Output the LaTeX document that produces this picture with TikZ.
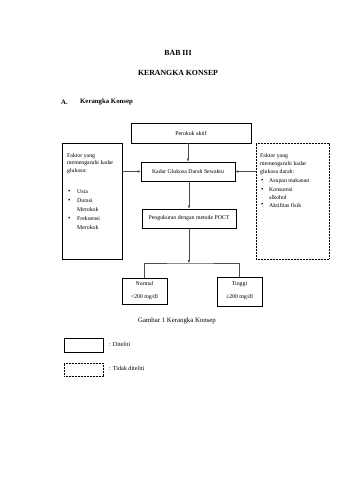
\documentclass[tikz,border=0pt]{standalone}
\usepackage{fontspec}
\setmainfont{Liberation Serif}
\usetikzlibrary{arrows.meta}
\begin{document}
\begin{tikzpicture}[x=1pt,y=-1pt,
  txt/.style={font=\fontsize{5.8}{6.5}\selectfont, inner sep=0pt},
  ltxt/.style={txt, anchor=west},
  bul/.style={ltxt, font=\fontsize{7}{7}\selectfont},
  solidbox/.style={draw=black, line width=0.6pt, inner sep=0pt},
  dotbox/.style={draw=black, line width=0.55pt, dash pattern=on 0.6pt off 0.9pt, inner sep=0pt},
  conn/.style={draw=black!70, line width=0.5pt},
  arr/.style={conn, -{Latex[length=3pt,width=2.6pt]}},
  title/.style={font=\fontsize{7.8}{9}\selectfont\bfseries, inner sep=0pt}]
\useasboundingbox[fill=white] (0,0) rectangle (339,480);
% titles
\node[title] (t1) at (178,53) {BAB III};
\node[title] (t2) at (178,73) {KERANGKA KONSEP};
\node[title, anchor=west, font=\fontsize{6.8}{8}\selectfont\bfseries] (t3a) at (61,102) {A.};
\node[title, anchor=west, font=\fontsize{6.8}{8}\selectfont\bfseries] (t3b) at (80,102) {Kerangka Konsep};
% boxes
\node[solidbox, minimum width=120, minimum height=20, txt] (P) at (191,133) {Perokok aktif};
\node[solidbox, minimum width=94, minimum height=19, txt] (K) at (188,171.5) {Kadar Glukosa Darah Sewaktu};
\node[solidbox, minimum width=94, minimum height=19, txt] (U) at (189,218.5) {Pengukuran dengan metode POCT};
\node[solidbox, minimum width=60, minimum height=116] (L) at (92,201) {};
\node[dotbox, minimum width=73, minimum height=116] (R) at (292.5,201) {};
\node[solidbox, minimum width=45, minimum height=26] (N) at (144.5,291) {};
\node[solidbox, line width=1pt, minimum width=45, minimum height=29] (T) at (239.5,291.5) {};
% left box text
\node[ltxt] (l1) at (67,156) {Faktor yang};
\node[ltxt] (l2) at (67,163.5) {memengaruhi kadar};
\node[ltxt] (l3) at (67,171) {glukosa:};
\node[bul] (lb1) at (68,192) {•};
\node[ltxt] (l4) at (77,192) {Usia};
\node[bul] (lb2) at (68,201) {•};
\node[ltxt] (l5) at (77,201) {Durasi};
\node[ltxt] (l6) at (77,210) {Merokok};
\node[bul] (lb3) at (68,219) {•};
\node[ltxt] (l7) at (77,219) {Frekuensi};
\node[ltxt] (l8) at (77,228) {Merokok};
% right box text
\node[ltxt] (r1) at (260,156) {Faktor yang};
\node[ltxt] (r2) at (260,164) {memengaruhi kadar};
\node[ltxt] (r3) at (260,172) {glukosa darah:};
\node[bul] (rb1) at (261,181) {•};
\node[ltxt] (r4) at (269,181) {Asupan makanan};
\node[bul] (rb2) at (261,190) {•};
\node[ltxt] (r5) at (269,190) {Konsumsi};
\node[ltxt] (r6) at (269,197.5) {alkohol};
\node[bul] (rb3) at (261,205) {•};
\node[ltxt] (r7) at (269,205) {Aktifitas fisik};
% result box texts
\node[txt] (n1) at (144.5,284) {Normal};
\node[txt] (n2) at (144.5,297) {<200 mg/dl};
\node[txt] (g1) at (239.5,284) {Tinggi};
\node[txt] (g2) at (239.5,297.5) {≥200 mg/dl};
% caption
\node[txt, font=\fontsize{6.8}{8}\selectfont] (cap) at (177,321) {Gambar 1 Kerangka Konsep};
% legend
\node[solidbox, minimum width=39, minimum height=14] (LS) at (83.5,345) {};
\node[dotbox, minimum width=39, minimum height=13] (LD) at (83.5,369.5) {};
\node[ltxt, font=\fontsize{6.1}{7}\selectfont] (ls) at (109,344) {: Diteliti};
\node[ltxt, font=\fontsize{6.1}{7}\selectfont] (ld) at (109,368.5) {: Tidak diteliti};
% connectors
\draw[arr] (K.north |- P.south) -- (K.north);
\draw[arr] (L.east |- K.west) -- (K.west);
\draw[arr] (R.west |- K.east) -- (K.east);
\draw[arr] (K.south -| U.north) -- (U.north);
\coordinate (B) at (189,263);
\draw[arr] (U.south) -- (B);
\draw[conn] (N.north) |- (B) -| (T.north);
\end{tikzpicture}
\end{document}
